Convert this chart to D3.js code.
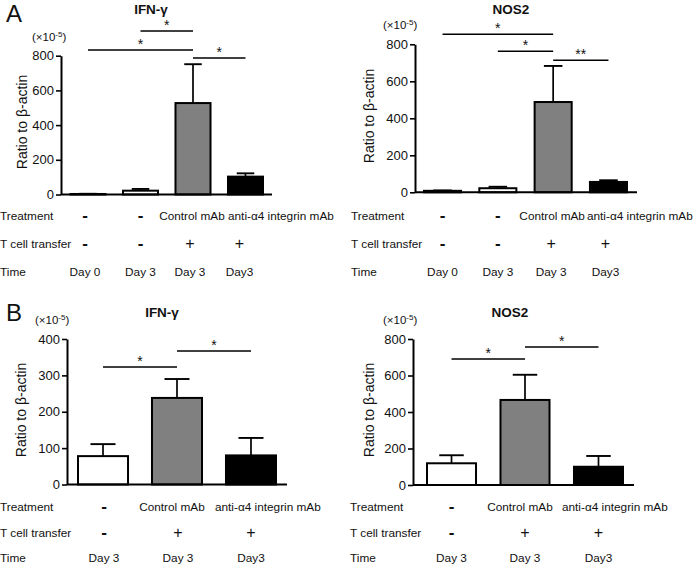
<!DOCTYPE html>
<html><head><meta charset="utf-8">
<script src="https://cdn.jsdelivr.net/npm/d3@7"></script>
<style>
body{margin:0;background:#fff}
text{font-family:"Liberation Sans",Arial,sans-serif;fill:#111}
</style>
</head><body>
<svg id="chart" width="700" height="569"></svg>
<script>
// ---------- DATA ----------
const groupsA = ["A1", "A2", "A3", "A4"];
const treatmentA = ["-", "-", "Control mAb", "anti-\u03b14 integrin mAb"];
const transferA = ["-", "-", "+", "+"];
const timeA = ["Day 0", "Day 3", "Day 3", "Day3"];
const colorsA = ["#ffffff", "#ffffff", "#808080", "#000000"];

const ifnA = [3, 22, 527, 103];
const ifnAErr = [1, 10, 224, 19];
const nos2A = [8, 22, 488, 56];
const nos2AErr = [2, 8, 195, 9];

const groupsB = ["B1", "B2", "B3"];
const treatmentB = ["-", "Control mAb", "anti-\u03b14 integrin mAb"];
const transferB = ["-", "+", "+"];
const timeB = ["Day 3", "Day 3", "Day3"];
const colorsB = ["#ffffff", "#808080", "#000000"];

const ifnB = [78, 238, 80];
const ifnBErr = [33, 52, 48];
const nos2B = [119, 466, 100];
const nos2BErr = [44, 138, 59];

const ticks800 = [0, 200, 400, 600, 800];
const ticks400 = [0, 100, 200, 300, 400];

// significance brackets: [from index, to index, height (data units), label]
const sigIfnA = [[1, 2, 942, "*"], [0, 2, 833, "*"], [2, 3, 787, "*"]];
const sigNos2A = [[0, 2, 854, "*"], [1, 2, 762, "*"], [2, 3, 714, "**"]];
const sigIfnB = [[0, 1, 323, "*"], [1, 2, 367, "*"]];
const sigNos2B = [[0, 1, 690, "*"], [1, 2, 756, "*"]];

const rowLabels = ["Treatment", "T cell transfer", "Time"];

// ---------- DRAW ----------
const svg = d3.select("#chart");

function panel(cfg) {
  const g = svg.append("g");
  const y = d3.scaleLinear().domain([0, cfg.max]).range([cfg.y0, cfg.y1]);
  const x = d3.scaleBand().domain(cfg.groups).range(cfg.band).paddingInner(cfg.pad).paddingOuter(0);
  const bw = x.bandwidth();

  // bars
  g.selectAll("rect.bar").data(cfg.values).join("rect")
    .attr("x", (d, i) => x(cfg.groups[i]))
    .attr("y", d => y(d))
    .attr("width", bw)
    .attr("height", d => y(0) - y(d))
    .attr("fill", (d, i) => cfg.colors[i])
    .attr("stroke", "#000").attr("stroke-width", 2);

  // error bars (upward)
  cfg.values.forEach((v, i) => {
    const cx = x(cfg.groups[i]) + bw / 2;
    const top = y(v + cfg.errors[i]);
    g.append("line").attr("x1", cx).attr("x2", cx).attr("y1", y(v)).attr("y2", top)
      .attr("stroke", "#000").attr("stroke-width", 1.7);
    g.append("line").attr("x1", cx - bw / 4).attr("x2", cx + bw / 4).attr("y1", top).attr("y2", top)
      .attr("stroke", "#000").attr("stroke-width", 1.9);
  });

  // x baseline
  g.append("line").attr("x1", cfg.ax).attr("x2", cfg.xEnd).attr("y1", y(0)).attr("y2", y(0))
    .attr("stroke", "#000").attr("stroke-width", 2);

  // y axis
  const ya = g.append("g").attr("transform", `translate(${cfg.ax},0)`)
    .call(d3.axisLeft(y).tickValues(cfg.ticks).tickSizeInner(5).tickSizeOuter(0).tickPadding(2));
  ya.select(".domain").attr("stroke", "#000").attr("stroke-width", 2);
  ya.selectAll(".tick line").attr("stroke", "#000").attr("stroke-width", 1.6);
  ya.selectAll(".tick text").style("font-family", '"Liberation Sans",Arial,sans-serif')
    .style("font-size", "13px").attr("fill", "#111");

  // significance
  cfg.sig.forEach(s => {
    const xa = x(cfg.groups[s[0]]) + bw / 2, xb = x(cfg.groups[s[1]]) + bw / 2;
    const yy = y(s[2]);
    g.append("line").attr("x1", xa).attr("x2", xb).attr("y1", yy).attr("y2", yy)
      .attr("stroke", "#000").attr("stroke-width", 1.5);
    g.append("text").attr("x", (xa + xb) / 2).attr("y", yy - 1).attr("text-anchor", "middle")
      .style("font-size", "14px").text(s[3]);
  });

  // title
  g.append("text").attr("x", cfg.titleX).attr("y", cfg.titleY).attr("text-anchor", "middle")
    .style("font-size", "13.5px").style("font-weight", "bold").text(cfg.title);

  // unit
  const u = g.append("text").attr("x", cfg.unitX).attr("y", y(cfg.max) - 15).style("font-size", "11.5px");
  u.append("tspan").text("(\u00d710");
  u.append("tspan").attr("dy", -4).style("font-size", "8px").text("-5");
  u.append("tspan").attr("dy", 4).text(")");

  // y label
  g.append("text").attr("transform", `translate(${cfg.ylabX},${cfg.ylabY}) rotate(-90)`)
    .attr("text-anchor", "middle").style("font-size", "14px").text("Ratio to \u03b2-actin");

  // table
  const rows = [cfg.treatment, cfg.transfer, cfg.time];
  rows.forEach((row, r) => {
    const by = cfg.rows[r];
    g.append("text").attr("x", cfg.rowX).attr("y", by).style("font-size", "11.8px").text(rowLabels[r]);
    row.forEach((lab, i) => {
      const left = x(cfg.groups[i]);
      const cx = left + bw / 2 + cfg.colOff[i];
      const t = g.append("text").attr("y", by);
      if (lab === "-") {
        t.attr("x", cx).attr("y", by + 1).attr("text-anchor", "middle").style("font-size", "17px").style("font-weight", "bold");
      } else if (lab === "+") {
        t.attr("x", cx).attr("y", by + 1).attr("text-anchor", "middle").style("font-size", "16px");
      } else if (r === 0 && i === row.length - 1) {
        t.attr("x", left + cfg.antiOff).attr("text-anchor", "start").style("font-size", "11.8px");
      } else if (r === 0) {
        t.attr("x", left + bw / 2 + cfg.ctrlOff).attr("text-anchor", "middle").style("font-size", "11.8px");
      } else {
        t.attr("x", cx).attr("text-anchor", "middle").style("font-size", "11.8px");
      }
      t.text(lab);
    });
  });
}

panel({groups: groupsA, values: ifnA, errors: ifnAErr, colors: colorsA, max: 800, ticks: ticks800,
  ax: 61, y0: 194.5, y1: 55.7, band: [70.5, 263], pad: 0.333, xEnd: 272, sig: sigIfnA,
  title: "IFN-\u03b3", titleX: 151, titleY: 14, unitX: 32, ylabX: 27, ylabY: 122,
  treatment: treatmentA, transfer: transferA, time: timeA, rows: [220, 248, 276], rowX: 0,
  colOff: [-3, 0, -3, -6], ctrlOff: -1, antiOff: 0});

panel({groups: groupsA, values: nos2A, errors: nos2AErr, colors: colorsA, max: 800, ticks: ticks800,
  ax: 415, y0: 192.3, y1: 44.3, band: [424, 627], pad: 0.33, xEnd: 637, sig: sigNos2A,
  title: "NOS2", titleX: 511, titleY: 14, unitX: 383, ylabX: 374, ylabY: 116,
  treatment: treatmentA, transfer: transferA, time: timeA, rows: [220, 248, 276], rowX: 351,
  colOff: [0, 0, -2, -3], ctrlOff: -1, antiOff: -3});

panel({groups: groupsB, values: ifnB, errors: ifnBErr, colors: colorsB, max: 400, ticks: ticks400,
  ax: 67, y0: 484.5, y1: 339, band: [78, 276], pad: 0.324, xEnd: 287, sig: sigIfnB,
  title: "IFN-\u03b3", titleX: 162, titleY: 317, unitX: 35, ylabX: 26, ylabY: 410,
  treatment: treatmentB, transfer: transferB, time: timeB, rows: [511, 537, 562], rowX: 0,
  colOff: [1, 1, 0], ctrlOff: -5, antiOff: -11});

panel({groups: groupsB, values: nos2B, errors: nos2BErr, colors: colorsB, max: 800, ticks: ticks800,
  ax: 413, y0: 485, y1: 339, band: [427, 623], pad: 0.333, xEnd: 634, sig: sigNos2B,
  title: "NOS2", titleX: 510, titleY: 317, unitX: 383, ylabX: 374, ylabY: 410,
  treatment: treatmentB, transfer: transferB, time: timeB, rows: [511, 537, 562], rowX: 350,
  colOff: [0, 0, 0], ctrlOff: -5, antiOff: -12});

// panel letters
svg.append("text").attr("x", 6).attr("y", 22).style("font-size", "24px").text("A");
svg.append("text").attr("x", 6).attr("y", 321).style("font-size", "24px").text("B");
</script>
</body></html>
